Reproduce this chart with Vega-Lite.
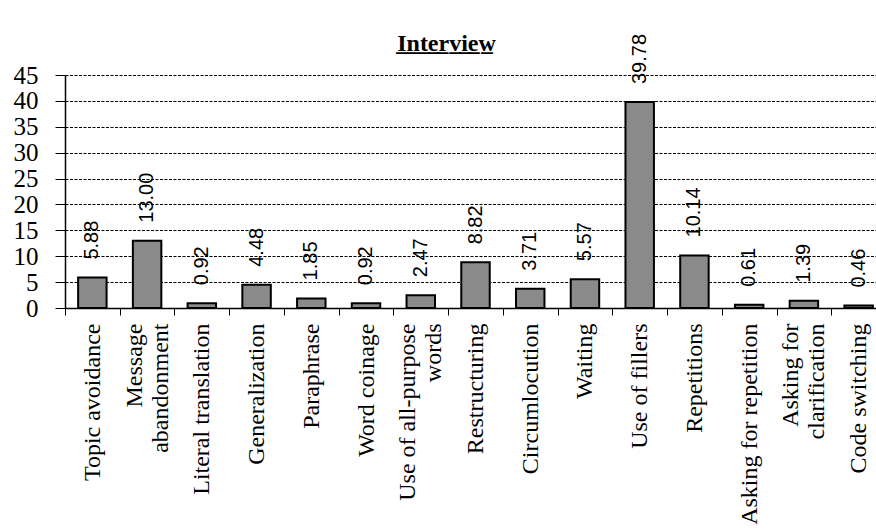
{
  "$schema": "https://vega.github.io/schema/vega-lite/v6.json",
  "autosize": {"type": "none"},
  "padding": {"left": 65, "top": 75, "right": 0, "bottom": 223},
  "width": 811,
  "height": 233,
  "background": "white",
  "title": {
    "text": "I̲n̲t̲e̲r̲v̲i̲e̲w̲",
    "font": "Liberation Serif",
    "fontSize": 24,
    "fontWeight": "bold",
    "color": "black",
    "anchor": "middle",
    "dx": -24,
    "baseline": "alphabetic",
    "offset": -41
  },
  "data": {
    "values": [
      {"strategy": "Topic avoidance", "pct": 5.88},
      {"strategy": "Message|abandonment", "pct": 13.0},
      {"strategy": "Literal translation", "pct": 0.92},
      {"strategy": "Generalization", "pct": 4.48},
      {"strategy": "Paraphrase", "pct": 1.85},
      {"strategy": "Word coinage", "pct": 0.92},
      {"strategy": "Use of all-purpose|words", "pct": 2.47},
      {"strategy": "Restructuring", "pct": 8.82},
      {"strategy": "Circumlocution", "pct": 3.71},
      {"strategy": "Waiting", "pct": 5.57},
      {"strategy": "Use of fillers", "pct": 39.78},
      {"strategy": "Repetitions", "pct": 10.14},
      {"strategy": "Asking for repetition", "pct": 0.61},
      {"strategy": "Asking for|clarification", "pct": 1.39},
      {"strategy": "Code switching", "pct": 0.46}
    ]
  },
  "encoding": {
    "x": {
      "field": "strategy",
      "type": "nominal",
      "sort": null,
      "scale": {"range": [0, 821], "paddingInner": 0, "paddingOuter": 0},
      "axis": {
        "title": null,
        "labelAngle": -90,
        "labelAlign": "right",
        "labelBaseline": "middle",
        "labelFont": "Liberation Serif",
        "labelFontSize": 24,
        "labelLineHeight": 13,
        "labelColor": "black",
        "labelPadding": 8,
        "labelLimit": 0,
        "labelOverlap": false,
        "labelOffset": -13,
        "labelExpr": "indexof(datum.label, '|') >= 0 ? split(replace(datum.label, '|', '|\u200b|'), '|') : ['\u200b', datum.label]",
        "tickBand": "extent",
        "tickSize": 7,
        "tickColor": "black",
        "tickWidth": 1,
        "domainColor": "black",
        "domainWidth": 1.5,
        "grid": false
      }
    },
    "y": {
      "field": "pct",
      "type": "quantitative",
      "scale": {"domain": [0, 45], "nice": false},
      "axis": {
        "title": null,
        "values": [0, 5, 10, 15, 20, 25, 30, 35, 40, 45],
        "labelFont": "Liberation Serif",
        "labelFontSize": 25,
        "labelColor": "black",
        "labelPadding": 17,
        "labelOverlap": false,
        "tickSize": 10,
        "tickColor": "black",
        "domainColor": "black",
        "domainWidth": 1.5,
        "grid": true,
        "gridColor": "black",
        "gridWidth": 1,
        "gridDash": [3, 1.5],
        "gridOpacity": 1
      }
    }
  },
  "layer": [
    {
      "mark": {
        "type": "bar",
        "width": {"band": 0.52},
        "fill": "#8a8a8a",
        "stroke": "black",
        "strokeWidth": 2
      }
    },
    {
      "mark": {
        "type": "text",
        "angle": -90,
        "align": "left",
        "baseline": "middle",
        "dx": 18,
        "font": "Liberation Sans",
        "fontSize": 20,
        "color": "black"
      },
      "encoding": {
        "text": {"field": "pct", "type": "quantitative", "format": ".2f"}
      }
    }
  ],
  "config": {
    "view": {"stroke": null}
  }
}
